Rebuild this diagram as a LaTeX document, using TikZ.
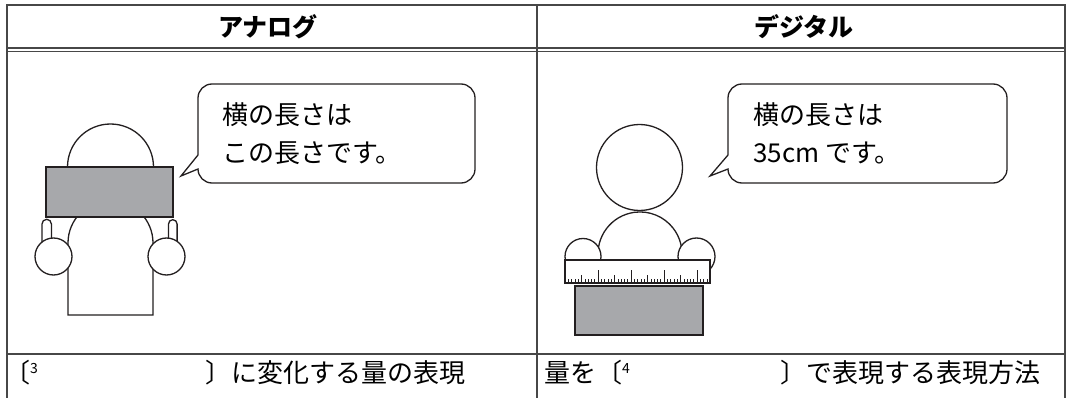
\documentclass[tikz,border=0pt]{standalone}
\usepackage{fontspec}
\setmainfont{Noto Sans CJK JP}
\usetikzlibrary{positioning}

\definecolor{boardgray}{HTML}{A7A8AB}
\definecolor{inkline}{HTML}{231F20}

\begin{document}
\begin{tikzpicture}[x=1pt,y=-1pt,
    rule/.style={draw=black!72, line width=1.7pt},
    fig/.style={draw=inkline, line width=1.3pt, fill=white},
    board/.style={fig, fill=boardgray},
    head/.style={inner sep=0pt, font=\fontsize{25}{30}\selectfont\bfseries},
    say/.style={anchor=base west, inner sep=0pt, align=left, font=\fontsize{26}{38}\selectfont},
    cell/.style={anchor=base west, inner sep=0pt, font=\fontsize{26}{30}\selectfont}]
    \useasboundingbox (0,0) rectangle (1070,398);

    % table frame
    \draw[rule] (7,398) |- (1065,5) -- (1065,398);
    \draw[rule] (537,5) -- (537,398);
    \draw[rule] (7,48) -- (1065,48) (7,51.5) -- (1065,51.5);
    \draw[rule] (7,354) -- (1065,354);

    \node[head] (analog) at (268,27) {アナログ};
    \node[head] (digital) at (804,27) {デジタル};

    % analog: holding up a bare board
    \draw[fig] (68,315) -- (68,243) arc[start angle=180, end angle=360, radius=42.5] -- (153,315) -- cycle;
    \draw[fig] (110.5,167) circle[radius=43];
    \draw[board] (46,167) rectangle (173,217);
    \draw[fig] (42,245) -- (42,224) arc[start angle=180, end angle=360, radius=4.7] -- (51.4,245);
    \draw[fig] (168.5,245) -- (168.5,224) arc[start angle=180, end angle=360, radius=4.3] -- (177.1,245);
    \draw[fig] (53.5,256.5) circle[radius=18.5];
    \draw[fig] (166.5,256.5) circle[radius=18.5];

    % digital: measuring the board with a ruler
    \draw[fig] (639.5,167.5) circle[radius=43];
    \draw[fig] (598.4,259.8) arc[start angle=172, end angle=368, radius=42];
    \draw[fig] (583,256.5) circle[radius=18];
    \draw[fig] (696.5,256.5) circle[radius=18.5];
    \draw[fig] (565,260) rectangle (710,283);
    \foreach \i in {0,...,42} {
        \pgfmathsetmacro\len{mod(\i,10)==9 ? 13 : (mod(\i,5)==4 ? 8 : 4)}
        \draw[inkline, line width=0.9pt] (568.5+3.3*\i,283) -- ++(0,-\len);
    }
    \draw[board] (575,286) rectangle (703,335);

    % speech bubbles
    \draw[fig] (198,155) -- (198,98) arc[start angle=180, end angle=270, radius=14] -- (461,84)
        arc[start angle=270, end angle=360, radius=14] -- (475,169)
        arc[start angle=0, end angle=90, radius=14] -- (212,183)
        arc[start angle=90, end angle=180, radius=14] -- (181,176) -- cycle;
    \draw[fig] (728,155) -- (728,98) arc[start angle=180, end angle=270, radius=14] -- (993,84)
        arc[start angle=270, end angle=360, radius=14] -- (1007,169)
        arc[start angle=0, end angle=90, radius=14] -- (742,183)
        arc[start angle=90, end angle=180, radius=14] -- (710,176) -- cycle;

    % base of these nodes is the second line
    \node[say] (leftsay) at (222,163) {横の長さは\\この長さです。};
    \node[say] (rightsay) at (753,163) {横の長さは\\35cm です。};

    % bottom row
    \node[cell] (leftopen) at (4,382) {〔\raisebox{9pt}{\fontsize{14}{14}\selectfont 3}};
    \node[cell] (leftrest) at (205,382) {〕に変化する量の表現};
    \node[cell] (rightopen) at (544,382) {量を〔\raisebox{9pt}{\fontsize{14}{14}\selectfont 4}};
    \node[cell] (rightrest) at (780,382) {〕で表現する表現方法};
\end{tikzpicture}
\end{document}
